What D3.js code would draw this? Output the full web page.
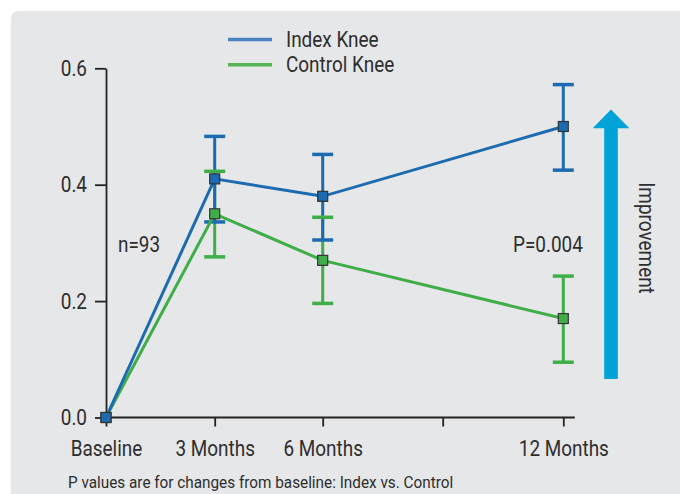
<!DOCTYPE html>
<html><head><meta charset="utf-8">
<script src="https://cdn.jsdelivr.net/npm/d3@7"></script>
<style>
html,body{margin:0;padding:0;background:#fff;}
svg{display:block;font-family:Roboto,"Noto Sans",sans-serif;}
</style></head>
<body>
<svg id="chart" width="680" height="494"></svg>
<script>
// ---- data ----
const timepoints = ["Baseline", "3 Months", "6 Months", "12 Months"];
const months = [0, 3, 6, 12];
const tickMonths = [0, 3, 6, 9, 12];
const tickLabels = ["Baseline", "3 Months", "6 Months", "", "12 Months"];
const indexValues = [0, 0.41, 0.38, 0.50];
const indexLow = [null, 0.336, 0.305, 0.425];
const indexHigh = [null, 0.483, 0.452, 0.572];
const controlValues = [0, 0.35, 0.27, 0.17];
const controlLow = [null, 0.276, 0.196, 0.095];
const controlHigh = [null, 0.423, 0.344, 0.243];
const yTicks = [0, 0.2, 0.4, 0.6];
const seriesNames = ["Index Knee", "Control Knee"];
const annotations = {n: "n=93", p: "P=0.004", arrow: "Improvement",
  foot: "P values are for changes from baseline: Index vs. Control"};

const blue = "#1c6bb0", green = "#3fae48";
const blueLeg = "#4a84c4", greenLeg = "#55b553";
const textCol = "#2e2e2e";

const svg = d3.select("#chart");

// background panel
svg.append("rect").attr("x", 11).attr("y", 11).attr("width", 680).attr("height", 500)
  .attr("rx", 7).attr("fill", "#e6e7e9");

const x = d3.scaleLinear().domain(tickMonths).range([106, 214.7, 322.7, 442.7, 563.3]);
const y = d3.scaleLinear().domain([0, 0.6]).range([417.5, 68.3]);

// y axis
const yAxis = svg.append("g").attr("transform", "translate(106,0)")
  .call(d3.axisLeft(y).tickValues(yTicks).tickFormat(d3.format(".1f")).tickSize(11).tickSizeOuter(0).tickPadding(8));
yAxis.select(".domain").attr("stroke", "#222").attr("stroke-width", 1.8);
yAxis.selectAll(".tick line").attr("stroke", "#222").attr("stroke-width", 1.8);
yAxis.selectAll(".tick text").attr("font-size", 22).attr("fill", textCol).attr("font-family", "Roboto");

// x axis
const xAxis = svg.append("g").attr("transform", "translate(0,417.5)")
  .call(d3.axisBottom(x).tickValues(tickMonths).tickFormat((d, i) => tickLabels[i]).tickSize(9).tickSizeOuter(0).tickPadding(14));
xAxis.select(".domain").attr("d", `M${x(0)},0H${x(12) + 11.5}`).attr("stroke", "#222").attr("stroke-width", 1.8);
xAxis.selectAll(".tick line").attr("stroke", "#222").attr("stroke-width", 1.8);
xAxis.selectAll(".tick text").attr("font-size", 22).attr("fill", textCol).attr("font-family", "Roboto");

const series = [
  {name: seriesNames[1], vals: controlValues, lo: controlLow, hi: controlHigh, col: green},
  {name: seriesNames[0], vals: indexValues, lo: indexLow, hi: indexHigh, col: blue}
];

const capW = 10.5;
const plot = svg.append("g");
// error bar verticals
series.forEach(s => {
  months.forEach((m, i) => {
    if (s.lo[i] == null) return;
    plot.append("line").attr("x1", x(m)).attr("x2", x(m)).attr("y1", y(s.lo[i])).attr("y2", y(s.hi[i]))
      .attr("stroke", s.col).attr("stroke-width", 3);
  });
});
// caps
series.forEach(s => {
  months.forEach((m, i) => {
    if (s.lo[i] == null) return;
    [s.lo[i], s.hi[i]].forEach(v => {
      plot.append("line").attr("x1", x(m) - capW).attr("x2", x(m) + capW).attr("y1", y(v)).attr("y2", y(v))
        .attr("stroke", s.col).attr("stroke-width", 3.5);
    });
  });
});
// lines
const line = d3.line().x((d, i) => x(months[i])).y(d => y(d));
series.forEach(s => {
  plot.append("path").attr("d", line(s.vals)).attr("fill", "none").attr("stroke", s.col).attr("stroke-width", 3);
});
// markers
const ms = 10;
series.forEach(s => {
  s.vals.forEach((v, i) => {
    plot.append("rect").attr("x", x(months[i]) - ms / 2).attr("y", y(v) - ms / 2).attr("width", ms).attr("height", ms)
      .attr("fill", s.col).attr("stroke", "#333").attr("stroke-width", 1.2);
  });
});

// legend
const legend = svg.append("g");
[[seriesNames[0], blueLeg], [seriesNames[1], greenLeg]].forEach((d, i) => {
  const ly = 39.5 + i * 25.3;
  legend.append("line").attr("x1", 228).attr("x2", 272).attr("y1", ly).attr("y2", ly)
    .attr("stroke", d[1]).attr("stroke-width", 3.5);
  legend.append("text").attr("x", 286).attr("y", ly + 7).attr("font-size", 22).attr("fill", textCol).text(d[0]);
});

// annotations
svg.append("text").attr("x", 118).attr("y", 251.5).attr("font-size", 22).attr("fill", textCol).text(annotations.n);
svg.append("text").attr("x", 513).attr("y", 251.5).attr("font-size", 22).attr("fill", textCol).text(annotations.p);

// arrow
const ax = 611, tipY = 109.5, headY = 128.3, botY = 379, shaftHW = 6.8, headHW = 18.3;
svg.append("path")
  .attr("d", `M${ax},${tipY}L${ax + headHW},${headY}H${ax + shaftHW}V${botY}H${ax - shaftHW}V${headY}H${ax - headHW}Z`)
  .attr("fill", "#00a3d8");
svg.append("text").attr("transform", "translate(639,238) rotate(90)").attr("text-anchor", "middle")
  .attr("font-size", 22).attr("fill", textCol).text(annotations.arrow);

// footnote
svg.append("text").attr("class", "foot").attr("x", 68).attr("y", 487.5).attr("font-size", 17).attr("fill", textCol).text(annotations.foot);

// condense text to mimic a condensed face
svg.selectAll("text").each(function () {
  const w = this.getComputedTextLength();
  const f = this.getAttribute("class") === "foot" ? 0.9 : 0.86;
  if (w > 0) d3.select(this).attr("textLength", w * f).attr("lengthAdjust", "spacingAndGlyphs");
});
</script>
</body></html>
